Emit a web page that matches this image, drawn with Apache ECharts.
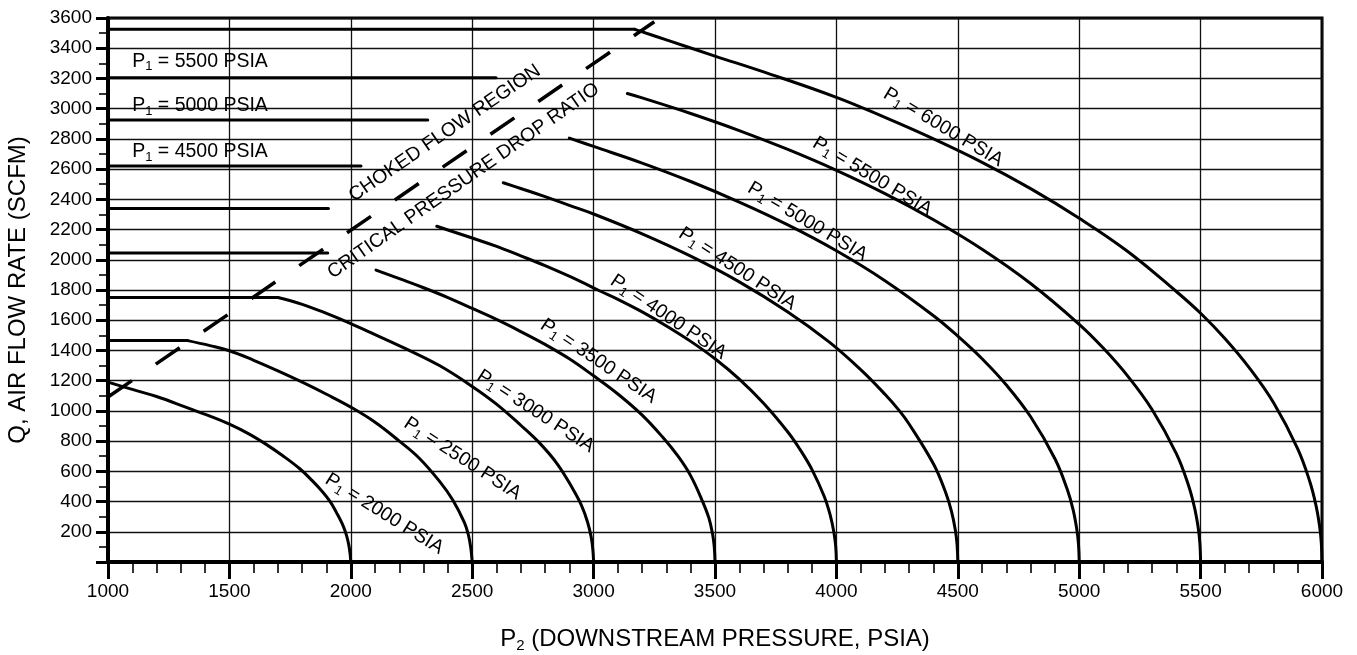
<!DOCTYPE html>
<html>
<head>
<meta charset="utf-8">
<script src="https://cdn.jsdelivr.net/npm/echarts@6/dist/echarts.min.js"></script>
<style>
html,body{margin:0;padding:0;background:#fff;}
#chart{width:1357px;height:655px;}
</style>
</head>
<body>
<div id="chart"></div>
<script>
// ---------------- axis ranges ----------------
const X_MIN = 1000, X_MAX = 6000, X_STEP = 500;
const Y_MIN = 0, Y_MAX = 3600, Y_STEP = 200;

// ---------------- choked (flat) portions, [P2, Q] ----------------
const flat2500 = [[1000,1465],[1328,1465]];
const flat3000 = [[1000,1750],[1700,1750]];
const flat3500 = [[1000,2045],[1905,2045]];
const flat4000 = [[1000,2340],[1908,2340]];
const flat4500 = [[1000,2620],[2042,2620]];
const flat5000 = [[1000,2925],[2317,2925]];
const flat5500 = [[1000,3205],[2598,3205]];
const flat6000 = [[1000,3525],[3170,3525]];

// ---------------- sub-critical curves, [P2, Q] ----------------
const curve2000 = [[1000,1190],[1100,1142],[1200,1095],[1320,1025],[1420,965],[1500,912],[1580,848],[1650,780],[1720,703],[1790,617],[1840,540],[1885,462],[1915,400],[1940,330],[1965,252],[1982,178],[1992,110],[1997,55],[2000,0]];
const curve2500 = [[1328,1465],[1420,1432],[1500,1398],[1600,1335],[1700,1265],[1800,1190],[1900,1110],[2000,1025],[2100,925],[2200,800],[2280,690],[2365,535],[2420,410],[2468,260],[2485,175],[2494,95],[2500,0]];
const curve3000 = [[1700,1750],[1800,1705],[1900,1645],[2000,1578],[2100,1505],[2228,1410],[2365,1300],[2500,1162],[2600,1045],[2700,905],[2776,790],[2850,650],[2914,485],[2950,375],[2975,265],[2990,165],[2997,80],[3000,0]];
const curve3500 = [[2104,1932],[2200,1875],[2300,1815],[2400,1750],[2500,1678],[2600,1605],[2700,1525],[2800,1440],[2900,1345],[3000,1232],[3100,1112],[3200,972],[3285,825],[3350,695],[3400,570],[3449,400],[3475,290],[3490,185],[3497,100],[3500,0]];
const curve4000 = [[2354,2222],[2400,2197],[2500,2144],[2598,2090],[2700,2026],[2800,1961],[2941,1861],[3024,1795],[3100,1738],[3200,1655],[3300,1562],[3400,1460],[3500,1345],[3600,1210],[3700,1050],[3800,860],[3850,745],[3900,610],[3950,433],[3975,307],[3990,194],[3997,106],[4000,0]];
const curve4500 = [[2628,2510],[2700,2472],[2800,2418],[2900,2360],[3000,2303],[3200,2172],[3400,2024],[3600,1854],[3800,1655],[3971,1455],[4100,1273],[4200,1110],[4259,1002],[4300,912],[4400,648],[4450,460],[4474,335],[4490,210],[4497,115],[4500,0]];
const curve5000 = [[2900,2805],[3000,2750],[3200,2640],[3400,2518],[3600,2382],[3800,2231],[4000,2060],[4200,1862],[4400,1630],[4500,1495],[4600,1345],[4700,1171],[4800,961],[4900,683],[4950,484],[4975,345],[4990,217],[4997,119],[5000,0]];
const curve5500 = [[3139,3100],[3200,3071],[3400,2968],[3600,2855],[3800,2730],[4000,2592],[4200,2438],[4400,2265],[4600,2070],[4800,1843],[5000,1573],[5100,1414],[5200,1230],[5300,1009],[5400,717],[5450,508],[5475,360],[5490,228],[5497,125],[5500,0]];
const curve6000 = [[3170,3525],[3300,3455],[3500,3348],[3700,3243],[4000,3075],[4200,2942],[4400,2800],[4600,2645],[4800,2471],[5000,2275],[5200,2055],[5400,1790],[5500,1646],[5600,1479],[5700,1286],[5800,1055],[5900,749],[5950,531],[5975,376],[5990,238],[5997,130],[6000,0]];

// ---------------- critical pressure drop ratio line ----------------
const criticalLine = [[1000,1092],[3250,3575]];

// ---------------- annotations (data coordinates) ----------------
const curveLabelP1    = [2000, 2500, 3000, 3500, 4000, 4500, 5000, 5500, 6000];
const curveLabelX     = [2138, 2460, 2761, 3020, 3308, 3592, 3881, 4148, 4440];
const curveLabelY     = [319, 684, 997, 1329, 1621, 1940, 2252, 2551, 2877];
const curveLabelAngle = [-32, -33, -33, -34, -34, -33, -31, -31, -31];

const flatLabelP1 = [5500, 5000, 4500];
const flatLabelX  = [1379, 1379, 1379];
const flatLabelY  = [3311, 3017, 2713];

const regionText  = ['CHOKED FLOW REGION', 'CRITICAL PRESSURE DROP RATIO'];
const regionX     = [2387, 2464];
const regionY     = [2837, 2522];
const regionAngle = [34.4, 35];

// ---------------- build chart ----------------
const FONT = "Liberation Sans, Arial, Helvetica, sans-serif";
const LABEL_SIZE = 19.5;
const RICH = {
  n: {fontFamily: FONT, fontSize: LABEL_SIZE, color: '#000'},
  s: {fontFamily: FONT, fontSize: 13, color: '#000', padding: [10, 0, 0, 0]}
};

function lineSeries(data, smooth) {
  return {
    type: 'line', data: data, showSymbol: false, symbol: 'none',
    smooth: smooth ? 0.4 : false,
    lineStyle: {color: '#000', width: 3, cap: 'round', join: 'round'},
    silent: true, z: 5
  };
}

const series = [];
[flat2500, flat3000, flat3500, flat4000, flat4500, flat5000, flat5500, flat6000]
  .forEach(d => series.push(lineSeries(d, false)));
[curve2000, curve2500, curve3000, curve3500, curve4000, curve4500, curve5000, curve5500, curve6000]
  .forEach(d => series.push(lineSeries(d, true)));

series.push({
  type: 'line', data: criticalLine, showSymbol: false, symbol: 'none', silent: true, z: 5,
  lineStyle: {color: '#000', width: 3.5, type: [29, 29], cap: 'butt'}
});

const labelItems = [];
curveLabelP1.forEach((p, i) => {
  labelItems.push({
    value: [curveLabelX[i], curveLabelY[i]],
    label: {rotate: curveLabelAngle[i], formatter: '{n|P}{s|1}{n| = ' + p + ' PSIA}'}
  });
});
flatLabelP1.forEach((p, i) => {
  labelItems.push({
    value: [flatLabelX[i], flatLabelY[i]],
    label: {rotate: 0, formatter: '{n|P}{s|1}{n| = ' + p + ' PSIA}'}
  });
});
regionText.forEach((t, i) => {
  labelItems.push({
    value: [regionX[i], regionY[i]],
    label: {rotate: regionAngle[i], formatter: '{n|' + t + '}'}
  });
});

series.push({
  type: 'scatter', data: labelItems, symbolSize: 2, silent: true, z: 6,
  itemStyle: {color: 'rgba(0,0,0,0)'},
  labelLayout: {hideOverlap: false},
  label: {show: true, position: 'inside', rich: RICH, color: '#000', opacity: 1}
});

const chart = echarts.init(document.getElementById('chart'), null, {renderer: 'canvas'});
chart.setOption({
  animation: false,
  backgroundColor: '#fff',
  grid: {left: 108, right: 35, top: 18, bottom: 93, containLabel: false, outerBoundsMode: 'none',
    show: true, borderColor: '#000', borderWidth: 3, backgroundColor: 'transparent'},
  xAxis: {
    type: 'value', min: X_MIN, max: X_MAX, interval: X_STEP,
    name: '{n|P}{s|2}{n| (DOWNSTREAM PRESSURE, PSIA)}',
    nameLocation: 'middle', nameGap: 64,
    nameTextStyle: {rich: {
      n: {fontFamily: FONT, fontSize: 24, color: '#000'},
      s: {fontFamily: FONT, fontSize: 15, color: '#000', padding: [12, 0, 0, 0]}
    }},
    axisLine: {show: true, onZero: false, lineStyle: {color: '#000', width: 4}},
    axisTick: {show: true, inside: false, length: 17, lineStyle: {color: '#000', width: 3}},
    minorTick: {show: true, splitNumber: 5, length: 11, lineStyle: {color: '#000', width: 1.6}},
    axisLabel: {margin: 20, fontFamily: FONT, fontSize: 19, color: '#000',
      formatter: v => String(v)},
    splitLine: {show: true, lineStyle: {color: '#111', width: 1.3}},
    minorSplitLine: {show: false}
  },
  yAxis: {
    type: 'value', min: Y_MIN, max: Y_MAX, interval: Y_STEP,
    name: 'Q, AIR FLOW RATE (SCFM)',
    nameLocation: 'middle', nameGap: 78, nameRotate: 90,
    nameTextStyle: {fontFamily: FONT, fontSize: 24, color: '#000'},
    axisLine: {show: true, onZero: false, lineStyle: {color: '#000', width: 4}},
    axisTick: {show: true, inside: false, length: 12, lineStyle: {color: '#000', width: 3}},
    minorTick: {show: true, splitNumber: 2, length: 9, lineStyle: {color: '#000', width: 1.6}},
    axisLabel: {margin: 16, fontFamily: FONT, fontSize: 19, color: '#000',
      formatter: v => (v === 0 ? '' : String(v))},
    splitLine: {show: true, lineStyle: {color: '#111', width: 1.3}},
    minorSplitLine: {show: false}
  },
  series: series
});
</script>
</body>
</html>
